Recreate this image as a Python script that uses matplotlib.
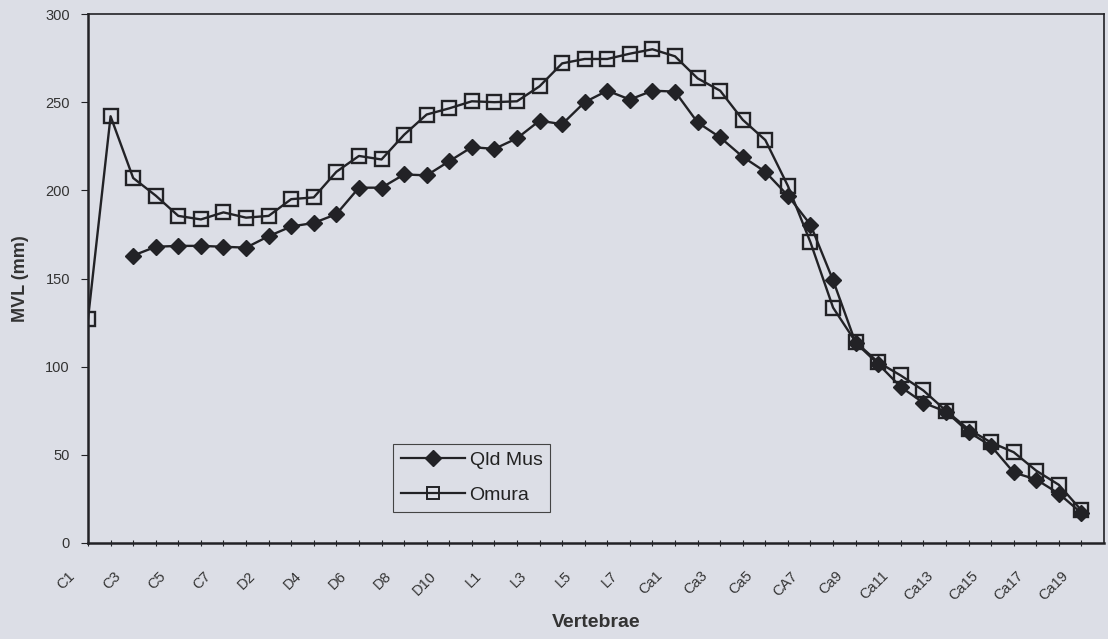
import numpy as np
import matplotlib
matplotlib.use('Agg')
import matplotlib.pyplot as plt
import matplotlib.transforms as mtransforms
from matplotlib.lines import Line2D

plt.rcParams['font.family'] = ['Liberation Sans', 'DejaVu Sans']

# Vertebra names along the x axis
vertebrae = (['C%d' % i for i in range(1, 8)]
             + ['D%d' % i for i in range(1, 12)]
             + ['L%d' % i for i in range(1, 9)]
             + ['Ca%d' % i for i in range(1, 20)])
vertebrae[vertebrae.index('Ca7')] = 'CA7'

# MVL values (mm)
omura = [127, 242, 207, 197, 185.5, 183.5, 187.5, 184.5, 185.5, 195,
         196, 210.5, 219.5, 217.5, 231.5, 243, 246.5, 250.5, 250, 250.5,
         259, 272, 274.5, 274.5, 277.5, 280, 276, 263.5, 256.5, 240,
         228.5, 202.5, 170.5, 133.5, 114, 102.5, 95, 86.5, 75, 64.5,
         57, 51.5, 41, 33, 18.5]
qld_mus = [np.nan, np.nan, 163, 168, 168.5, 168.5, 168, 167.5, 174, 179.5,
           181.5, 186.5, 201.5, 201.5, 209, 208.5, 216.5, 224.5, 223.5, 229.5,
           239.5, 237.5, 250, 256.5, 251.5, 256.5, 256, 238.5, 230, 219,
           210.5, 197, 180.5, 149, 113.5, 101.5, 88.5, 79.5, 74.5, 63,
           55, 40, 36, 28, 17]

bg = '#dcdee6'
ink = '#222226'

fig = plt.figure(figsize=(11.08, 6.39), dpi=100, facecolor=bg)
ax = fig.add_axes([88 / 1108, 1 - 543 / 639, 1016 / 1108, 529 / 639])
ax.set_facecolor(bg)

x = np.arange(len(vertebrae))
ax.plot(x, omura, color=ink, lw=1.7, marker='s', ms=9.5, mfc='none',
        mec=ink, mew=1.7, zorder=3)
ax.plot(x, qld_mus, color=ink, lw=1.7, marker='D', ms=8, mfc=ink,
        mec=ink, zorder=4)

ax.set_xlim(0, len(vertebrae))
ax.set_ylim(0, 300)
ax.set_yticks(range(0, 301, 50))
ax.set_xticks(x)
ax.set_xticklabels([v if i % 2 == 0 else '' for i, v in enumerate(vertebrae)],
                   rotation=45, ha='right')
ax.tick_params(axis='x', direction='inout', length=5, width=0.8, pad=16,
               labelsize=10.5, labelcolor='#333333', color=ink)
ax.tick_params(axis='y', direction='out', length=5, width=0.8, pad=8,
               labelsize=10.5, labelcolor='#333333', color=ink)
offset = mtransforms.ScaledTranslation(-10 / 100, 0, fig.dpi_scale_trans)
for lab in ax.get_xticklabels():
    lab.set_transform(lab.get_transform() + offset)

for side in ['left', 'bottom']:
    ax.spines[side].set_linewidth(1.8)
    ax.spines[side].set_color(ink)
for side in ['top', 'right']:
    ax.spines[side].set_linewidth(1.2)
    ax.spines[side].set_color(ink)

ax.set_xlabel('Vertebrae', fontsize=14, fontweight='bold', color='#333333',
              labelpad=8)
ax.set_ylabel('MVL (mm)', fontsize=13, fontweight='bold', color='#333333',
              labelpad=12)

handles = [Line2D([], [], color=ink, lw=1.6, marker='D', ms=8, mfc=ink, mec=ink),
           Line2D([], [], color=ink, lw=1.6, marker='s', ms=8.5, mfc='none',
                  mec=ink, mew=1.4)]
leg = ax.legend(handles, ['Qld Mus', 'Omura'], loc='lower left',
                bbox_to_anchor=(0.300, 0.059), borderaxespad=0, fontsize=14,
                handlelength=3.3, handletextpad=0.25, borderpad=0.4,
                labelspacing=0.9, fancybox=False, framealpha=1,
                facecolor=bg, edgecolor='#444444')
leg.get_frame().set_linewidth(0.8)
for t in leg.get_texts():
    t.set_color('#222222')

fig.savefig('out.png', dpi=100, facecolor=bg)
